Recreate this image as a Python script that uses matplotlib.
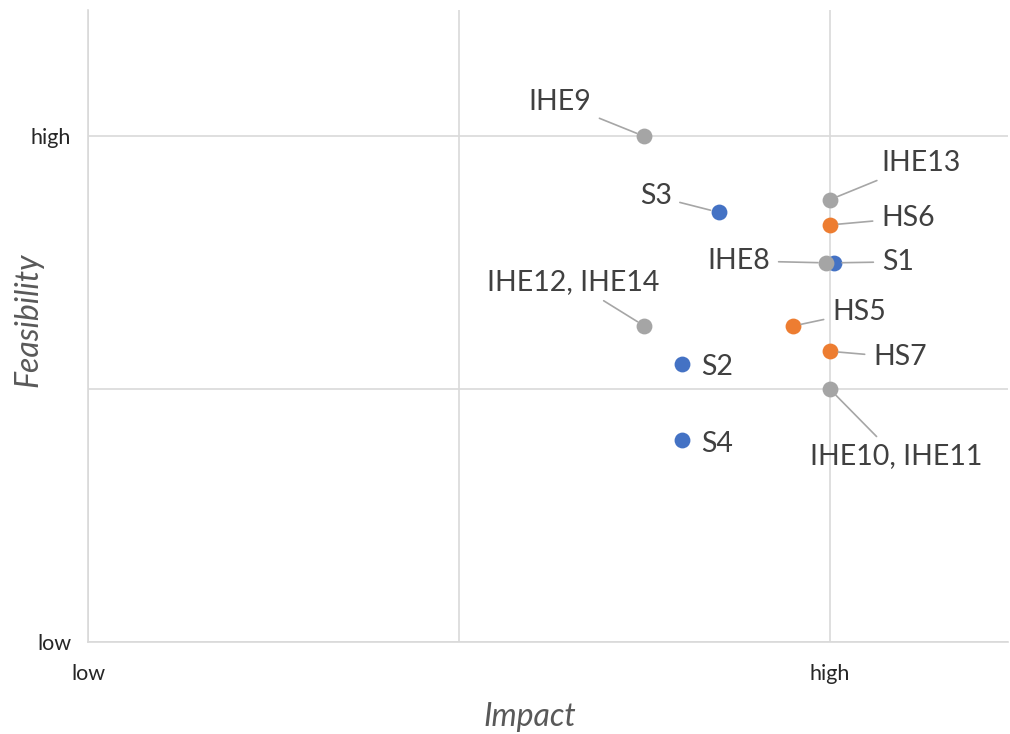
import matplotlib.pyplot as plt

plt.rcParams['font.family'] = ['Lato', 'DejaVu Sans']

# impact (x) / feasibility (y), grouped by colour series
s_names = ['S3', 'S1', 'S2', 'S4']
s_x = [1.70, 2.01, 1.60, 1.60]
s_y = [1.70, 1.50, 1.10, 0.80]

hs_names = ['HS6', 'HS5', 'HS7']
hs_x = [2.00, 1.90, 2.00]
hs_y = [1.65, 1.25, 1.15]

ihe_names = ['IHE9', 'IHE13', 'IHE8', 'IHE12, IHE14', 'IHE10, IHE11']
ihe_x = [1.50, 2.00, 1.99, 1.50, 2.00]
ihe_y = [2.00, 1.75, 1.50, 1.25, 1.00]

x_ticks = [0, 2]
x_ticklabels = ['low', 'high']
y_ticks = [0, 2]
y_ticklabels = ['low', 'high']

# label offsets in pixels (dx, dy, ha, leader line?)
label_pos = {
    'S3': (-47, 16, 'right', True),
    'S1': (48, 1, 'left', True),
    'S2': (20, -3, 'left', False),
    'S4': (20, -4, 'left', False),
    'HS6': (51, 7, 'left', True),
    'HS5': (39, 14, 'left', True),
    'HS7': (43, -6, 'left', True),
    'IHE9': (-53, 34, 'right', True),
    'IHE13': (51, 37, 'left', True),
    'IHE8': (-56, 2, 'right', True),
    'IHE12, IHE14': (-71, 44, 'center', True),
    'IHE10, IHE11': (66, -67, 'center', True),
}

fig = plt.figure(figsize=(10.1, 7.34), dpi=100)
ax = fig.add_axes([0.0871, 0.1253, 0.911, 0.861])

series = [
    (s_names, s_x, s_y, '#4472C4'),
    (hs_names, hs_x, hs_y, '#ED7D31'),
    (ihe_names, ihe_x, ihe_y, '#A5A5A5'),
]
for names, xs, ys, col in series:
    ax.scatter(xs, ys, s=130, color=col, zorder=3, linewidths=0)
    for n, x, y in zip(names, xs, ys):
        dx, dy, ha, lead = label_pos[n]
        ap = dict(arrowstyle='-', color='#A6A6A6', lw=1.2, shrinkA=4, shrinkB=6) if lead else None
        ax.annotate(n, (x, y), xytext=(dx, dy), textcoords='offset pixels',
                    ha=ha, va='center', fontsize=20.5, color='#404040',
                    arrowprops=ap, zorder=4)

ax.set_xlim(0, 2.48)
ax.set_ylim(0, 2.5)
ax.set_xticks(x_ticks)
ax.set_xticklabels(x_ticklabels)
ax.set_yticks(y_ticks)
ax.set_yticklabels(y_ticklabels)
ax.set_xticks([1], minor=True)
ax.set_yticks([1], minor=True)
ax.grid(True, which='both', color='#D9D9D9', lw=1.2)
ax.set_axisbelow(True)
ax.tick_params(which='both', length=0, labelsize=15.5, labelcolor='#262626')
ax.tick_params(axis='x', pad=16)
ax.tick_params(axis='y', pad=12)
for side in ['top', 'right']:
    ax.spines[side].set_visible(False)
for side in ['left', 'bottom']:
    ax.spines[side].set_color('#D9D9D9')
    ax.spines[side].set_linewidth(1.2)

ax.set_xlabel('Impact', fontsize=23, style='italic', color='#595959')
ax.set_ylabel('Feasibility', fontsize=23, style='italic', color='#595959')
ax.xaxis.set_label_coords(0.48, -0.095)
ax.yaxis.set_label_coords(-0.048, 0.51)

fig.savefig('out.png', dpi=100)
